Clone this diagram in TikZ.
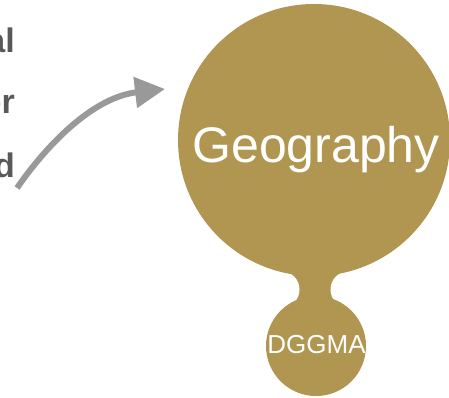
\documentclass[tikz,border=0pt]{standalone}
\usepackage{fontspec}
\setmainfont{Liberation Sans}
\usetikzlibrary{arrows.meta}
\definecolor{gold}{RGB}{176,150,80}
\definecolor{arrowgray}{RGB}{153,153,153}
\definecolor{textgray}{RGB}{89,89,89}
\tikzset{
  goldfill/.style={fill=gold,draw=none},
  sidetext/.style={anchor=base east,inner sep=0pt,text=textgray,font=\fontsize{34}{40}\selectfont\bfseries},
  bubbletext/.style={inner sep=0pt,text=white,anchor=base}
}
\begin{document}
\begin{tikzpicture}[x=1pt,y=-1pt]
\useasboundingbox (0,0) rectangle (449,397);
% centres
\coordinate (c1) at (314,140);
\coordinate (c2) at (316,346);
\coordinate (fl) at (281.1,289.5);
\coordinate (fr) at (348.9,289.5);
% neck
\fill[gold] (c1) -- (fl) -- (c2) -- (fr) -- cycle;
\fill[white] (fl) circle[radius=18.4];
\fill[white] (fr) circle[radius=18.4];
% bubbles
\fill[goldfill] (c1) circle[radius=136];
\fill[goldfill] (c2) circle[radius=50];
\node[bubbletext,font=\fontsize{50}{60}\selectfont] (geo) at (316,162) {Geography};
\node[bubbletext,font=\fontsize{26}{31}\selectfont] (dggma) at (316.5,353) {DGGMA};
% side texts
\node[sidetext] (t1) at (15,52) {al};
\node[sidetext] (t2) at (15,113) {or};
\node[sidetext] (t3) at (15,177) {d};
% arrow
\coordinate (as) at (17,188);
\coordinate (ae) at (165,89);
\draw[arrowgray,line width=6pt,-{Triangle[length=30pt,width=30pt]}]
  (as) .. controls (51,139) and (96,97) .. (ae);
\end{tikzpicture}
\end{document}
